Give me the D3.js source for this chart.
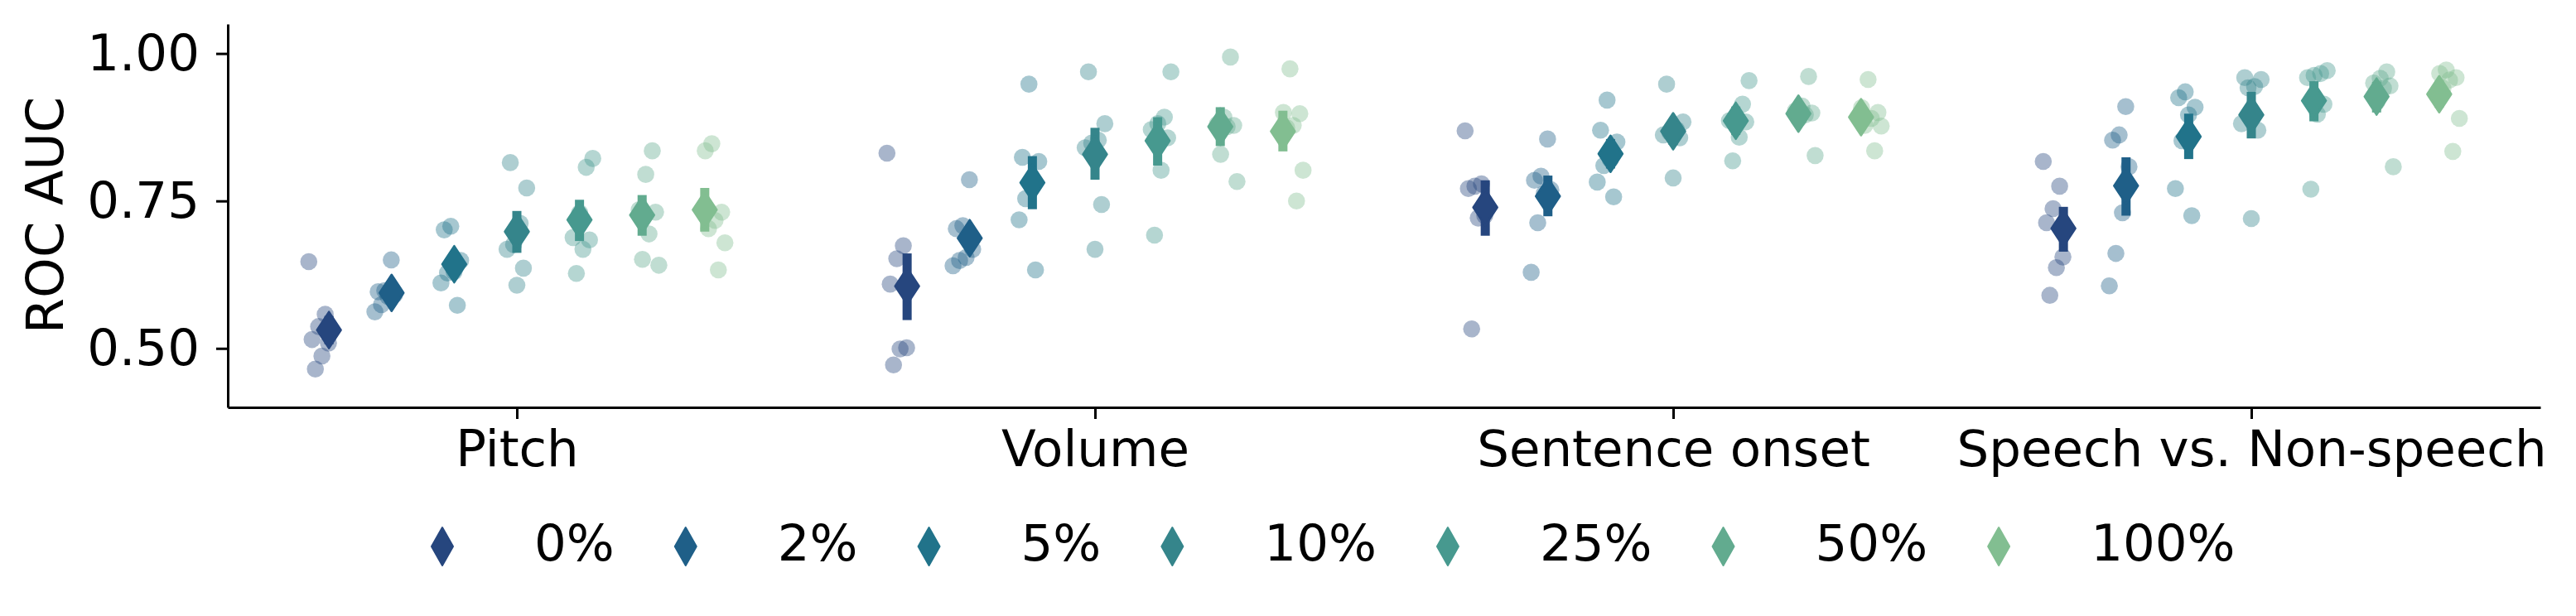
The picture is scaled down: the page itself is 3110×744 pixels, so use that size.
<!DOCTYPE html>
<html>
<head>
<meta charset="utf-8">
<script src="https://cdn.jsdelivr.net/npm/d3@7"></script>
<style>
  html, body { margin: 0; padding: 0; background: #ffffff; }
  svg text { font-family: "DejaVu Sans", sans-serif; fill: #000; }
</style>
</head>
<body>
<script>
// ---------- data ----------
const categories = ["Pitch", "Volume", "Sentence onset", "Speech vs. Non-speech"];
const hueLabels = ["0%", "2%", "5%", "10%", "25%", "50%", "100%"];
const hueColors = ["#26467e", "#1f5f88", "#21738a", "#35858b", "#47998f", "#62ab8f", "#82be91"];
const yTicks = [0.50, 0.75, 1.00];

// per-hue individual ROC AUC scores (7 runs each)
const pitchScores = [
  [0.647, 0.558, 0.537, 0.515, 0.509, 0.487, 0.465],
  [0.650, 0.598, 0.596, 0.591, 0.588, 0.574, 0.562],
  [0.707, 0.701, 0.649, 0.630, 0.628, 0.611, 0.573],
  [0.815, 0.772, 0.712, 0.676, 0.668, 0.636, 0.607],
  [0.822, 0.807, 0.730, 0.688, 0.684, 0.668, 0.627],
  [0.835, 0.795, 0.735, 0.731, 0.694, 0.651, 0.641],
  [0.847, 0.835, 0.731, 0.717, 0.703, 0.679, 0.633]
];
const volumeScores = [
  [0.831, 0.674, 0.652, 0.609, 0.501, 0.499, 0.472],
  [0.786, 0.708, 0.703, 0.668, 0.654, 0.649, 0.640],
  [0.948, 0.824, 0.817, 0.773, 0.754, 0.718, 0.633],
  [0.969, 0.881, 0.853, 0.848, 0.840, 0.744, 0.668],
  [0.969, 0.892, 0.881, 0.871, 0.857, 0.802, 0.692],
  [0.994, 0.892, 0.880, 0.878, 0.876, 0.829, 0.783],
  [0.974, 0.900, 0.898, 0.878, 0.874, 0.802, 0.750]
];
const sentenceOnsetScores = [
  [0.869, 0.779, 0.775, 0.771, 0.725, 0.721, 0.533],
  [0.855, 0.792, 0.785, 0.769, 0.763, 0.713, 0.629],
  [0.921, 0.870, 0.850, 0.820, 0.810, 0.782, 0.757],
  [0.948, 0.884, 0.871, 0.866, 0.862, 0.857, 0.789],
  [0.954, 0.914, 0.888, 0.886, 0.884, 0.858, 0.818],
  [0.961, 0.911, 0.903, 0.899, 0.896, 0.889, 0.827],
  [0.956, 0.908, 0.900, 0.890, 0.878, 0.877, 0.835]
];
const speechScores = [
  [0.817, 0.775, 0.737, 0.713, 0.655, 0.637, 0.590],
  [0.910, 0.862, 0.853, 0.808, 0.730, 0.661, 0.606],
  [0.935, 0.925, 0.909, 0.896, 0.852, 0.771, 0.725],
  [0.959, 0.956, 0.944, 0.942, 0.881, 0.870, 0.720],
  [0.971, 0.966, 0.963, 0.959, 0.914, 0.897, 0.770],
  [0.969, 0.958, 0.950, 0.945, 0.941, 0.918, 0.808],
  [0.972, 0.966, 0.959, 0.955, 0.941, 0.890, 0.834]
];

// error bar extents [low, high] per hue
const pitchErr = [[0.507,0.555],[0.575,0.613],[0.622,0.662],[0.662,0.733],[0.682,0.752],[0.691,0.760],[0.698,0.772]];
const volumeErr = [[0.548,0.661],[0.665,0.705],[0.736,0.826],[0.786,0.874],[0.810,0.892],[0.843,0.909],[0.834,0.903]];
const sentenceOnsetErr = [[0.691,0.785],[0.724,0.793],[0.805,0.855],[0.845,0.890],[0.862,0.910],[0.878,0.918],[0.870,0.914]];
const speechErr = [[0.664,0.740],[0.725,0.824],[0.821,0.898],[0.856,0.935],[0.885,0.953],[0.900,0.952],[0.908,0.954]];

const allScores = [pitchScores, volumeScores, sentenceOnsetScores, speechScores];
const allErr = [pitchErr, volumeErr, sentenceOnsetErr, speechErr];

// ---------- layout ----------
const W = 3110, H = 744;
const FS = 61;
const svg = d3.select("body").append("svg").attr("width", W).attr("height", H);

const x = d3.scaleLinear().domain([-0.5, 3.5]).range([275, 3067]);
const y = d3.scaleLinear().domain([0.40, 1.05]).range([492, 29]);

const nH = hueLabels.length;
const stripStep = 0.8 / nH;
const stripOffset = i => -0.4 + stripStep * (i + 0.5);
const pointStep = 0.65 / (nH - 1);
const pointOffset = i => -0.325 + pointStep * i;
const jitter = k => (((k * 5) % 7) / 6 - 0.5) * 0.034;

// strip points
const gPts = svg.append("g");
allScores.forEach((cat, c) => {
  cat.forEach((vals, i) => {
    gPts.selectAll(null).data(vals).enter().append("circle")
      .attr("cx", (v, k) => x(c + stripOffset(i) + jitter(k + i)))
      .attr("cy", v => y(v))
      .attr("r", 10.3)
      .attr("fill", hueColors[i])
      .attr("fill-opacity", 0.4);
  });
});

// point estimates
const diamond = "M0,-22 L14.5,0 L0,22 L-14.5,0 Z";
const gMean = svg.append("g");
allScores.forEach((cat, c) => {
  cat.forEach((vals, i) => {
    const cx = x(c + pointOffset(i));
    const e = allErr[c][i];
    gMean.append("line")
      .attr("x1", cx).attr("x2", cx)
      .attr("y1", y(e[0])).attr("y2", y(e[1]))
      .attr("stroke", hueColors[i]).attr("stroke-width", 11);
    gMean.append("path")
      .attr("d", diamond)
      .attr("transform", `translate(${cx},${y(d3.mean(vals))})`)
      .attr("fill", hueColors[i])
      .attr("stroke", hueColors[i])
      .attr("stroke-width", 2.5)
      .attr("stroke-linejoin", "round");
  });
});

// axes
const yAxis = svg.append("g").attr("transform", "translate(275,0)")
  .call(d3.axisLeft(y).tickValues(yTicks).tickFormat(d3.format(".2f"))
    .tickSize(14).tickSizeOuter(0).tickPadding(20));
const xAxis = svg.append("g").attr("transform", "translate(0,492)")
  .call(d3.axisBottom(x).tickValues([0, 1, 2, 3]).tickFormat(i => categories[i])
    .tickSize(14).tickSizeOuter(0).tickPadding(14));
[yAxis, xAxis].forEach(g => {
  g.select(".domain").attr("stroke", "#000").attr("stroke-width", 3);
  g.selectAll(".tick line").attr("stroke", "#000").attr("stroke-width", 3);
  g.selectAll(".tick text").attr("font-size", FS).attr("font-family", "DejaVu Sans").attr("fill", "#000");
});

svg.append("text")
  .attr("transform", "translate(54,260) rotate(-90)")
  .attr("text-anchor", "middle")
  .attr("dy", "0.36em")
  .attr("font-size", FS + 1)
  .text("ROC AUC");

// legend
const gLeg = svg.append("g");
let lx = 534;
hueLabels.forEach((lab, i) => {
  gLeg.append("path")
    .attr("d", "M0,-23 L13,0 L0,23 L-13,0 Z")
    .attr("transform", `translate(${lx},660)`)
    .attr("fill", hueColors[i])
    .attr("stroke", hueColors[i])
    .attr("stroke-width", 2)
    .attr("stroke-linejoin", "round");
  const t = gLeg.append("text")
    .attr("x", lx + 111).attr("y", 677)
    .attr("font-size", FS)
    .text(lab);
  lx = lx + 111 + t.node().getComputedTextLength() + 86;
});
</script>
</body>
</html>
